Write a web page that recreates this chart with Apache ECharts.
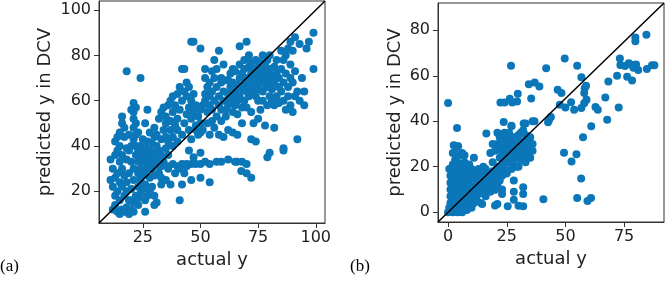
<!DOCTYPE html>
<html>
<head>
<meta charset="utf-8">
<script src="https://cdn.jsdelivr.net/npm/echarts@6/dist/echarts.min.js"></script>
<style>
  html, body { margin: 0; padding: 0; background: #fff; }
  #chart { width: 666px; height: 281px; }
</style>
</head>
<body>
<div id="chart"></div>
<script>
// panel (a): [actual y, predicted y in DCV]
const pointsA = [
  [12,12],[13,14],[14,11],[15,10],[16,12],[17,11],[18,13],[19,10],[20,12],[21,11],[23,14],[26,11],[26,16],[22,16],[21,15],[20,16],
  [23,17],[24,19],[27,18],[30,18],[31,15],[30,14],[28,20],[25,21],[29,22],[33,23],[33,26],[32,28],[35,25],[37,23],[36,30],
  [11,34],[11,25],[12,30],[12,22],[13,18],[13,26],[13,36],[13,42],[14,44],[14,20],[14,28],[14,38],[15,16],[15,24],[15,33],
  [15,40],[15,46],[16,50],[16,53],[16,22],[16,30],[16,36],[17,18],[17,27],[17,44],[17,48],[18,39],[18,34],[18,24],[18,20],
  [19,16],[19,28],[19,38],[19,45],[20,21],[20,33],[20,40],[20,56],[21,59],[21,55],[21,52],[21,48],[21,43],[21,30],[21,25],
  [22,18],[22,36],[22,40],[22,45],[22,50],[22,57],[23,22],[23,28],[23,33],[23,38],[23,46],
  [24,25],[24,30],[24,36],[24,40],[25,27],[25,33],[25,37],[25,43],[26,23],[26,29],[26,35],[26,39],[26,50],[27,31],[27,36],
  [27,42],[27,56],[28,26],[28,33],[28,38],[28,46],[29,30],[29,35],[29,41],[30,27],[30,32],[30,37],[30,44],[30,48],
  [31,34],[31,40],[31,45],[32,31],[32,38],[32,52],[33,36],[33,43],[33,55],[34,33],[34,47],[34,57],[35,39],[35,44],[35,50],
  [35,53],[36,36],[36,42],[36,58],[37,47],[37,51],[37,60],[38,40],[38,44],[38,55],[38,62],[39,49],[39,58],[40,42],[40,47],
  [40,52],[40,63],
  [33,31],[36,31],[38,32],[40,31],[42,32],[44,31],[46,32],[48,32],[50,32],[52,33],[54,32],[57,33],[59,33],[62,34],[65,33],
  [68,33],[70,32],
  [39,28],[41,30],[43,28],[42,23],[46,25],[50,26],[54,24],[41,16],[44,32],[47,35],[45,38],[50,37],
  [41,56],[41,66],[42,60],[42,45],[43,50],[43,64],[43,74],[44,54],[44,62],[44,68],[45,47],[45,57],[45,66],[46,52],[46,60],
  [46,43],[47,55],[47,63],[47,86],[48,49],[48,58],[48,47],[49,53],[49,45],[50,50],[50,56],[50,83],[50,46],
  [51,58],[51,47],[52,60],[52,63],[52,70],[52,74],[53,55],[53,50],[53,66],[54,58],[54,62],[54,68],[54,45],[55,51],[55,56],
  [55,64],[56,60],[56,70],[56,48],[57,53],[57,66],[57,74],[58,58],[58,62],[58,82],[58,45],[59,56],[59,68],[59,51],[60,60],
  [60,64],[60,44],[55,73],[56,78],[59,70],[60,76],[62,69],[64,74],
  [61,53],[61,69],[61,56],[62,58],[62,63],[62,47],[63,60],[63,66],[63,72],[64,55],[64,62],[64,68],[64,46],[65,64],[65,58],
  [65,73],[66,54],[66,60],[66,67],[66,45],[67,62],[67,70],[67,84],[67,76],[68,57],[68,65],[68,72],[68,50],[69,60],[69,67],
  [69,74],[69,78],[70,86],[70,64],[70,70],[70,57],[70,28],
  [71,62],[71,68],[71,75],[71,80],[72,66],[72,72],[72,55],[72,43],[72,77],[73,64],[73,70],[73,74],[73,50],[74,67],[74,72],
  [74,78],[74,62],[74,42],[75,65],[75,70],[75,75],[75,60],[75,52],[76,68],[76,73],[76,77],[76,56],[77,64],[77,70],[77,80],
  [77,74],[77,60],[78,67],[78,72],[78,76],[78,49],[79,70],[79,66],[79,78],[79,58],[80,62],[80,68],[80,74],[80,80],[80,37],
  [79,35],[72,26],[67.7,29],[65.8,33],
  [81,65],[81,71],[81,60],[82,68],[82,75],[82,58],[82,48],[83,62],[83,72],[83,78],[84,66],[84,70],[84,59],[85,74],[85,64],
  [85,82],[86,68],[86,60],[86,78],[86,39],[86,38],[87,72],[87,56],[87,80],[88,66],[88,62],[88,83],[89,70],[89,58],[89,76],
  [90,68],[90,55],[90,82],[91,88],[91,73],[92,64],[92,43],[93,60],[93,85],[94,70],[95,64],[95,58],[96,83],[97,86],[99,90],
  [99,74],[91,62],[89,86],
  [18,73],[24,70],[46,86],[42,74]
];

// panel (b): [actual y, predicted y in DCV]
const pointsB = [
  [0,0],[0.5,2],[1,1],[1,4],[1,7],[1,10],[1,13],[1,16],[0.5,19],[2,0],[2,3],[2,6],[2,9],[2,12],[2,15],[2,18],[2,21],[2,26],
  [3,1],[3,4],[3,8],[3,11],[3,14],[3,17],[3,20],[3,23],[4,0],[4,2],[4,5],[4,9],[4,13],[4,16],[4,19],[4,22],[4,29],[5,1],
  [5,4],[5,7],[5,11],[5,15],[5,18],[5,21],[5,25],[6,0],[6,3],[6,6],[6,10],[6,14],[6,17],[6,20],[7,2],[7,5],[7,8],[7,12],
  [7,16],[7,22],[7,25],[8,1],[8,4],[8,7],[8,10],[8,14],[8,19],[9,3],[9,6],[9,9],[9,12],[9,17],[9,21],[10,2],[10,5],[10,8],
  [10,11],[10,15],[10,19],[11,4],[11,7],[11,10],[11,24],[12,6],[12,9],[12,13],[12,17],[13,8],[13,11],[13,15],[13,19],
  [14,4],[14,10],[14,13],[14,18],[15,9],[15,12],[15,16],[15,20],[16,7],[16,11],[16,14],[16,19],[17,10],[17,13],[17,17],
  [18,9],[18,12],[18,16],[19,11],[19,14],[19,18],[20,10],[20,13],[20,17],[20,3],[21,12],[21,15],[21,20],[22,14],[22,18],
  [23,10],[23,16],[23,21],[24,19],[24,24],[3,26],[6,26],[3.8,37],[2.4,29.4],[4.3,29],
  [16.3,34.6],[18,26],[19,22],[20,27],[21,30],[21,35],[22,24],[22,29],[23,26],[23,32],[24,22],[24,28],[24,35],[25,25],
  [25,30],[25,33],[26,22],[26,27],[26,31],[27,24],[27,29],[27,33],[27,38],[28,21],[28,26],[28,30],[28,14],[28,9],[29,24],
  [29,28],[29,32],[30,20],[30,26],[30,30],[30,34],[31,23],[31,27],[31,31],[32,25],[32,29],[32,36],[32,11],[32,8],[33,22],
  [33,27],[33,31],[34,25],[34,29],[35,24],[35,28],[35,33],[36,27],[36,30],[36,40],[33,39],[23.7,39.7],[27,37.8],[25,17],
  [23,8],[20,9.9],[17,10],[28,5.5],[25.4,2.6],[30,2.9],[32,2.6],[21,3.6],[14.5,3.6],[40.6,5.7],
  [26,35],[28,33],[30,28],[31,35],[33,34],[34,32],[29,20],[27,19],[31,25],[19,30],[22,33],
  [0,48],[26.8,64.4],[41.8,63.3],[49.7,67.6],[55,64.4],[56.8,59.3],[22.3,48.3],[24.1,48.3],[26.3,49.9],[27.3,48.3],
  [29.7,52.1],[29.4,48.7],[34.4,56.3],[36.9,57],[38.9,55.3],[35.4,50],[32.2,39],[36.8,40],[42.6,39.6],[43.8,41.9],
  [43,40.5],[46.7,53.8],[48.3,52.4],[47.6,47.3],[50,46.1],[52.4,48.4],[53.7,45.1],[56.8,45.8],[58,47.9],[59,49.5],
  [58,52.4],[58.2,54.5],[58.8,55.6],[57.5,33],[49.4,26.2],[54.7,25.5],[52.6,22.3],[56.7,14.8],[55,6.3],[59.4,4.9],
  [60.9,6.3],[61,37.8],[62.8,46.3],[63.8,45.1],[67,50.5],[67.8,40.7],[68.3,57.5],[72,60],[72.7,46.1],[73.2,67.6],
  [73.4,64.7],[75.3,64.3],[77,65.5],[78,64.8],[79,63.5],[80.1,65],[76.3,59.6],[78.4,57.9],[79.8,76.8],[79.8,75.2],
  [84.5,78],[84.7,63],[86.9,64.6],[87.9,64.6],[81,62.5]
];

const ticksAX = [25, 50, 75, 100];
const ticksAY = [20, 40, 60, 80, 100];
const ticksBX = [0, 25, 50, 75];
const ticksBY = [0, 20, 40, 60, 80];
const diagA = [[6, 6], [104, 104]];
const diagB = [[-4.3, -4.3], [92, 92]];

const chart = echarts.init(document.getElementById("chart"));

const font = "DejaVu Sans";
const ink = "#222";
const dotColor = "#0b77b8";

function axis(gridIndex, min, max, ticks, name, isY) {
  return {
    type: "value",
    gridIndex,
    min,
    max,
    name,
    nameLocation: "middle",
    nameGap: isY ? (gridIndex === 0 ? 45 : 34) : 21,
    nameTextStyle: { fontFamily: font, fontSize: 18, color: ink },
    axisLine: { show: true, onZero: false, lineStyle: { color: "#333", width: 1 } },
    axisTick: { show: true, length: 5, customValues: ticks, lineStyle: { color: "#333" } },
    axisLabel: { customValues: ticks, fontFamily: font, fontSize: 16, color: ink, margin: isY ? 8 : 7 },
    splitLine: { show: false },
  };
}

const option = {
  animation: false,
  grid: [
    { left: 99, top: 1, width: 226, height: 222, show: true, borderColor: "#333", borderWidth: 1 },
    { left: 438, top: 3, width: 226, height: 219, show: true, borderColor: "#333", borderWidth: 1 },
  ],
  xAxis: [
    axis(0, 6, 104, ticksAX, "actual y", false),
    axis(1, -4.3, 92, ticksBX, "actual y", false),
  ],
  yAxis: [
    axis(0, 6, 104, ticksAY, "predicted y in DCV", true),
    axis(1, -4.3, 92, ticksBY, "predicted y in DCV", true),
  ],
  series: [
    {
      type: "scatter", xAxisIndex: 0, yAxisIndex: 0, data: pointsA,
      symbolSize: 8, itemStyle: { color: dotColor, opacity: 1 }, z: 2,
    },
    {
      type: "scatter", xAxisIndex: 1, yAxisIndex: 1, data: pointsB,
      symbolSize: 8, itemStyle: { color: dotColor, opacity: 1 }, z: 2,
    },
    {
      type: "line", xAxisIndex: 0, yAxisIndex: 0, data: diagA, showSymbol: false, symbol: "none",
      lineStyle: { color: "#000", width: 1.5 }, z: 3, silent: true,
    },
    {
      type: "line", xAxisIndex: 1, yAxisIndex: 1, data: diagB, showSymbol: false, symbol: "none",
      lineStyle: { color: "#000", width: 1.5 }, z: 3, silent: true,
    },
  ],
  graphic: [
    { type: "text", left: 0, top: 258, style: { text: "(a)", font: "17px 'Liberation Serif'", fill: "#000" } },
    { type: "text", left: 350, top: 258, style: { text: "(b)", font: "17px 'Liberation Serif'", fill: "#000" } },
  ],
};

chart.setOption(option);
</script>
</body>
</html>
